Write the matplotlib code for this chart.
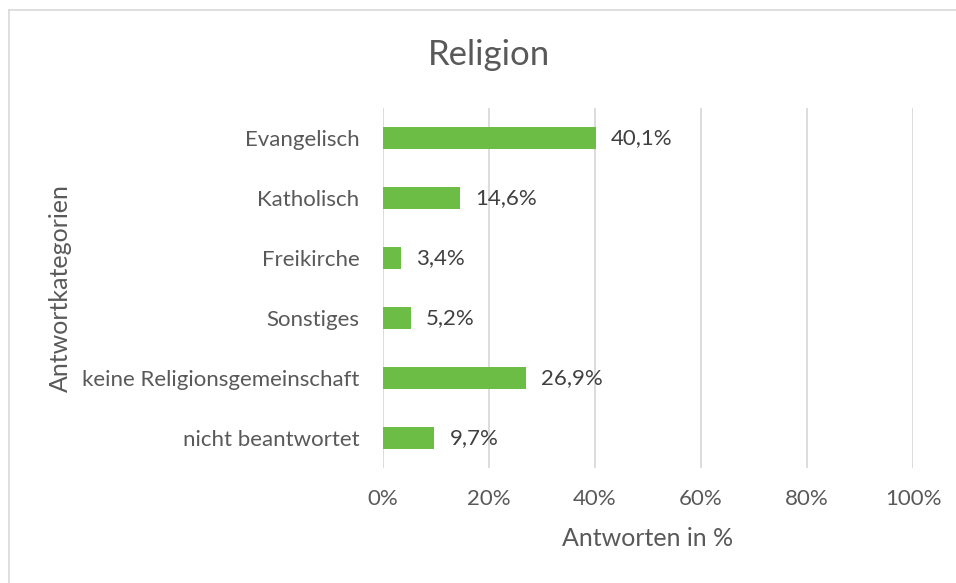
import matplotlib.pyplot as plt
from matplotlib.lines import Line2D

categories = ["Evangelisch", "Katholisch", "Freikirche", "Sonstiges",
              "keine Religionsgemeinschaft", "nicht beantwortet"]
values = [40.1, 14.6, 3.4, 5.2, 26.9, 9.7]
x_ticks = [0, 20, 40, 60, 80, 100]

grey = "#595959"
plt.rcParams['font.family'] = ['Lato', 'DejaVu Sans']

fig = plt.figure(figsize=(9.56, 5.83), dpi=100)
ax = fig.add_axes([383 / 956, 1 - 468 / 583, 530 / 956, 360 / 583])

pos = list(range(len(categories)))
ax.barh(pos, values, height=0.36, color="#6BBD45", zorder=3)
for p, v in zip(pos, values):
    ax.annotate(f"{v:.1f}%".replace(".", ","), (v, p), xytext=(11, 0),
                textcoords="offset points", va="center", ha="left",
                fontsize=16, color="#404040")

ax.set_ylim(len(categories) - 0.5, -0.5)
ax.set_yticks(pos)
ax.set_yticklabels(categories)
ax.set_xlim(0, 100)
ax.set_xticks(x_ticks)
ax.set_xticklabels([f"{t}%" for t in x_ticks])
ax.tick_params(axis="both", length=0, labelsize=16, labelcolor=grey)
ax.tick_params(axis="x", pad=15)
ax.tick_params(axis="y", pad=17)
ax.grid(axis="x", color="#d9d9d9", linewidth=1.3, zorder=0)
for s in ax.spines.values():
    s.set_visible(False)

ax.set_xlabel("Antworten in %", fontsize=18, color=grey, labelpad=13)
ax.set_ylabel("Antwortkategorien", fontsize=18, color=grey)
ax.yaxis.set_label_coords(-311 / 530, 0.5)
fig.text(489 / 956, 1 - 55 / 583, "Religion", ha="center", va="center",
         fontsize=25, color=grey)

# chart frame (only top and left edges visible)
fig.add_artist(Line2D([8.5 / 956, 1], [1 - 9.5 / 583, 1 - 9.5 / 583],
                      color="#d9d9d9", linewidth=1.2, transform=fig.transFigure))
fig.add_artist(Line2D([8.5 / 956, 8.5 / 956], [0, 1 - 9.5 / 583],
                      color="#d9d9d9", linewidth=1.2, transform=fig.transFigure))

fig.savefig("out.png", dpi=100)
